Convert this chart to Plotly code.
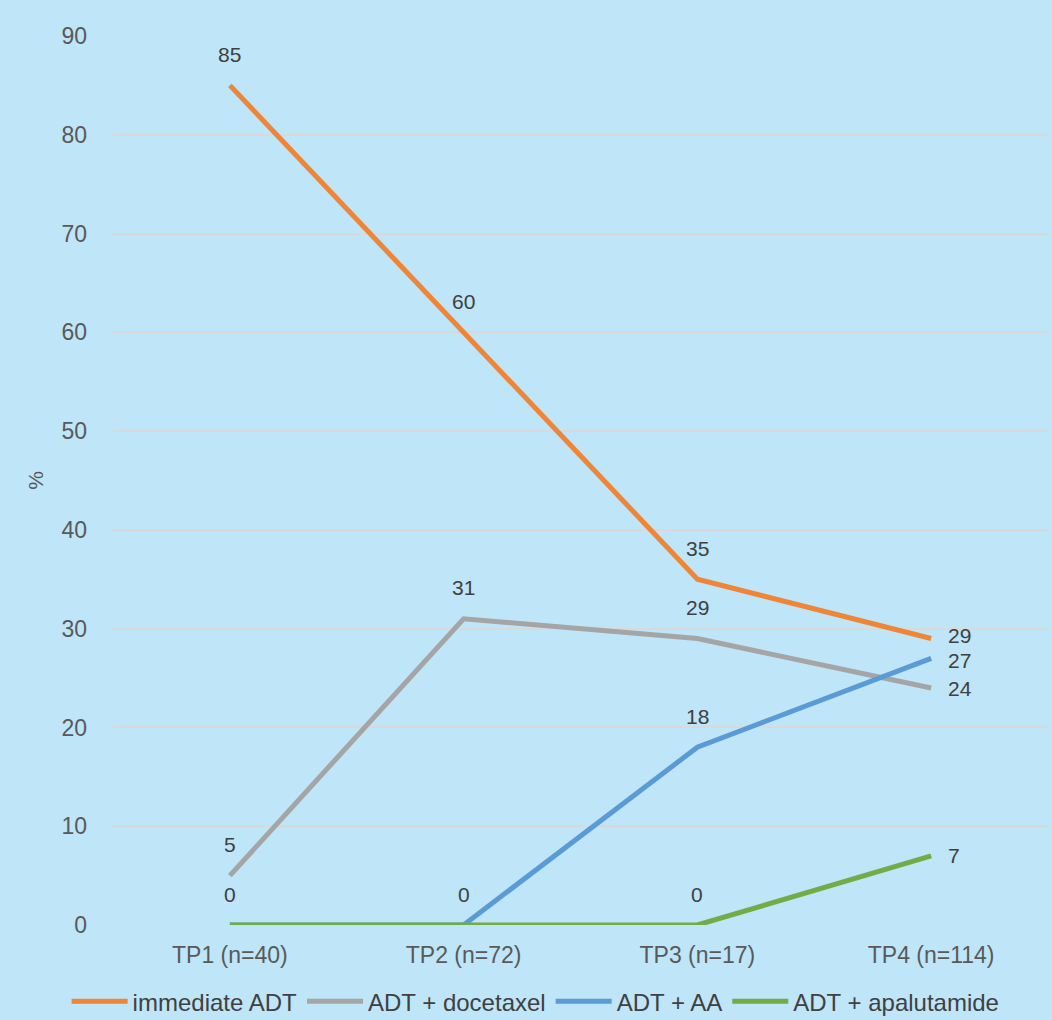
import plotly.graph_objects as go

categories = ["TP1 (n=40)", "TP2 (n=72)", "TP3 (n=17)", "TP4 (n=114)"]
immediate_adt = [85, 60, 35, 29]
adt_docetaxel = [5, 31, 29, 24]
adt_aa = [0, 0, 18, 27]
adt_apalutamide = [0, 0, 0, 7]
y_ticks = [0, 10, 20, 30, 40, 50, 60, 70, 80, 90]

# name, values, colour, which labels to show, vertical nudge of the last label (px)
series = [
    ("immediate ADT", immediate_adt, "#EE8537", [True, True, True, True], 3),
    ("ADT + docetaxel", adt_docetaxel, "#A5A5A5", [True, True, True, True], -1),
    ("ADT + AA", adt_aa, "#5B9BD5", [False, False, True, True], -2),
    ("ADT + apalutamide", adt_apalutamide, "#70AD47", [True, True, True, True], 0),
]

FONT = "Liberation Sans, Arial, sans-serif"
fig = go.Figure()
annotations = []
for name, vals, color, show, nudge in series:
    fig.add_trace(go.Scatter(
        x=categories, y=vals, name=name, mode="lines",
        line=dict(color=color, width=5),
        cliponaxis=False,
    ))
    last = len(vals) - 1
    for i, (c, v) in enumerate(zip(categories, vals)):
        if not show[i]:
            continue
        if i == last:
            annotations.append(dict(x=c, y=v, text=str(v), showarrow=False,
                                    xanchor="left", yanchor="middle", xshift=15, yshift=nudge,
                                    font=dict(size=21, color="#404040", family=FONT)))
        else:
            annotations.append(dict(x=c, y=v, text=str(v), showarrow=False,
                                    xanchor="center", yanchor="middle", yshift=31,
                                    font=dict(size=21, color="#404040", family=FONT)))

fig.update_layout(
    width=1052, height=1020,
    paper_bgcolor="#BEE5F8", plot_bgcolor="#BEE5F8",
    margin=dict(l=113, r=4, t=36, b=95, autoexpand=False),
    font=dict(family=FONT, size=22, color="#595959"),
    showlegend=True,
    annotations=annotations,
    legend=dict(orientation="h", x=0.452, xanchor="center", y=-0.061, yanchor="top",
                font=dict(size=24, color="#404040", family=FONT), bgcolor="rgba(0,0,0,0)",
                itemwidth=56, traceorder="normal"),
    xaxis=dict(type="category", range=[-0.5, 3.5], showgrid=False, zeroline=False,
               showline=False, ticks="", ticklabelstandoff=14, automargin=False,
               tickfont=dict(size=23, color="#595959", family=FONT)),
    yaxis=dict(range=[0, 90], tickvals=y_ticks, showgrid=True, gridcolor="#D9D9D9",
               gridwidth=2, zeroline=False, showline=False, ticks="", automargin=False,
               ticklabelstandoff=25, tickfont=dict(size=23, color="#595959", family=FONT),
               title=dict(text="%", font=dict(size=21, color="#595959", family=FONT),
                          standoff=12)),
)

fig.write_html("out.html")
